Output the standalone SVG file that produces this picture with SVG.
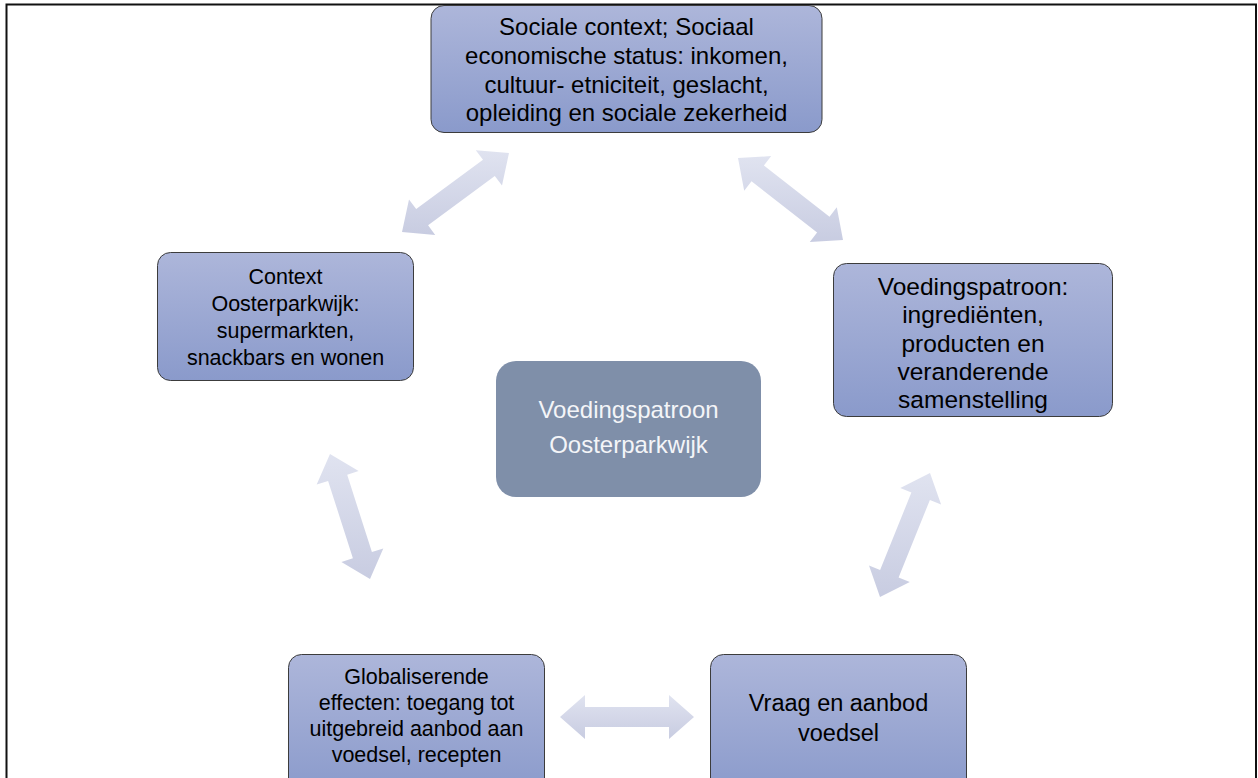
<svg xmlns="http://www.w3.org/2000/svg" width="1258" height="778" viewBox="0 0 1258 778">
  <defs>
    <linearGradient id="boxGrad" x1="0" y1="0" x2="0" y2="1">
      <stop offset="0" stop-color="#adb6da"/>
      <stop offset="1" stop-color="#8a9acb"/>
    </linearGradient>
    <linearGradient id="arrowGrad" x1="0" y1="0" x2="0" y2="1">
      <stop offset="0" stop-color="#e0e3f0"/>
      <stop offset="1" stop-color="#c8cce1"/>
    </linearGradient>
  </defs>
  <style>
    .box { fill: url(#boxGrad); stroke: #3c3c3c; stroke-width: 1; }
    .center { fill: #7f8fa9; stroke: none; }
    .arrow { fill: url(#arrowGrad); stroke: none; }
    .t { font-family: "Liberation Sans", Arial, sans-serif; fill: #000; text-anchor: middle; }
    .tw { font-family: "Liberation Sans", Arial, sans-serif; fill: #f4f5f8; text-anchor: middle; }
  </style>
  <rect width="1258" height="778" fill="#ffffff"/>
  <path d="M6.5,778 V4.5 H1256 V778" fill="none" stroke="#111" stroke-width="2"/>

  <g id="connectors">
    <polygon class="arrow" points="402,232 435.2,234.9 428.1,225.2 494.8,175.9 502,185.6 509,153 475.8,150.2 483,159.8 416.2,209.1 409,199.5"/>
    <polygon class="arrow" points="738,158 744.2,190.7 751.5,181.3 817.1,232.5 809.8,242 843,240 836.8,207.3 829.5,216.7 763.9,165.5 771.2,156.1"/>
    <polygon class="arrow" points="330,454 316.7,484.5 328.1,480.9 352.9,558.2 341.4,561.9 370,579 383.3,548.5 371.9,552.1 347.2,474.8 358.6,471.1"/>
    <polygon class="arrow" points="930,473 900.3,488 911.4,492.5 880.1,570.1 869,565.6 880,597 909.8,582 898.6,577.6 929.9,499.9 941.1,504.4"/>
    <polygon class="arrow" points="560,717 585,739 585,727 669,727 669,739 694,717 669,695 669,707 585,707 585,695"/>
  </g>

  <g id="node-top">
    <rect class="box" x="431" y="5.5" width="391" height="127" rx="13"/>
    <text class="t" font-size="24" x="626.5" y="35">Sociale context; Sociaal</text>
    <text class="t" font-size="24" x="626.5" y="64">economische status: inkomen,</text>
    <text class="t" font-size="24" x="626.5" y="92.5">cultuur- etniciteit, geslacht,</text>
    <text class="t" font-size="24" x="626.5" y="121">opleiding en sociale zekerheid</text>
  </g>

  <g id="node-left">
    <rect class="box" x="157.5" y="252.5" width="256" height="128" rx="13"/>
    <text class="t" font-size="21.5" x="285.5" y="284">Context</text>
    <text class="t" font-size="21.5" x="285.5" y="311">Oosterparkwijk:</text>
    <text class="t" font-size="21.5" x="285.5" y="338">supermarkten,</text>
    <text class="t" font-size="21.5" x="285.5" y="365">snackbars en wonen</text>
  </g>

  <g id="node-right">
    <rect class="box" x="833.5" y="263.5" width="279" height="153" rx="13"/>
    <text class="t" font-size="24.5" x="973" y="295">Voedingspatroon:</text>
    <text class="t" font-size="24.5" x="973" y="323.3">ingrediënten,</text>
    <text class="t" font-size="24.5" x="973" y="351.7">producten en</text>
    <text class="t" font-size="24.5" x="973" y="380">veranderende</text>
    <text class="t" font-size="24.5" x="973" y="408.3">samenstelling</text>
  </g>

  <g id="node-center">
    <rect class="center" x="496" y="361" width="265" height="136" rx="20"/>
    <text class="tw" font-size="24" x="628.5" y="418">Voedingspatroon</text>
    <text class="tw" font-size="24" x="628.5" y="453">Oosterparkwijk</text>
  </g>

  <g id="node-bottom-left">
    <rect class="box" x="288.5" y="654.5" width="256" height="140" rx="13"/>
    <text class="t" font-size="21.5" x="416.5" y="684">Globaliserende</text>
    <text class="t" font-size="21.5" x="416.5" y="710">effecten: toegang tot</text>
    <text class="t" font-size="21.5" x="416.5" y="736">uitgebreid aanbod aan</text>
    <text class="t" font-size="21.5" x="416.5" y="762">voedsel, recepten</text>
  </g>

  <g id="node-bottom-right">
    <rect class="box" x="710.5" y="654.5" width="256" height="140" rx="13"/>
    <text class="t" font-size="23.5" x="838.5" y="711">Vraag en aanbod</text>
    <text class="t" font-size="23.5" x="838.5" y="741">voedsel</text>
  </g>
</svg>
